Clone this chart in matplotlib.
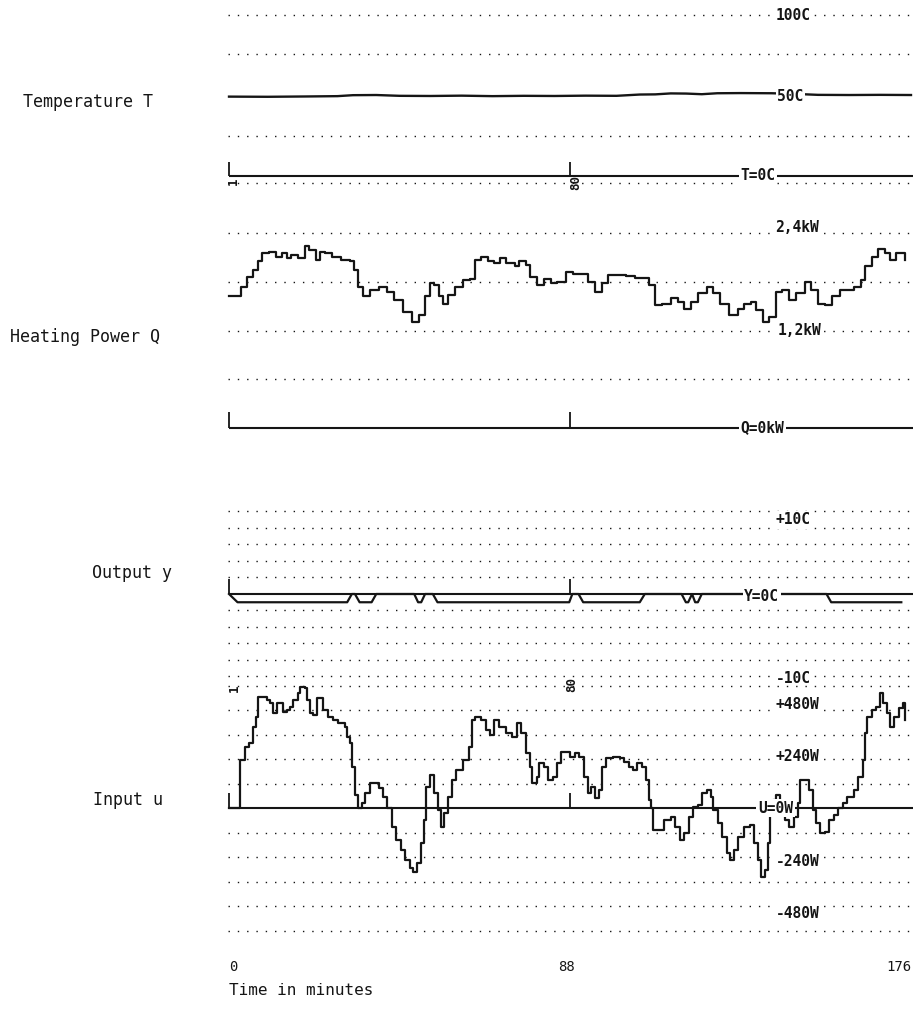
import matplotlib
matplotlib.use("Agg")
import matplotlib.pyplot as plt
import matplotlib.transforms as mtransforms

# ---------------------------------------------------------------- data
# Temperature T (deg C) against time (min)
time_T = [0, 10, 20, 28, 32, 38, 44, 52, 60, 68, 76, 84, 92, 100, 106, 110,
          114, 118, 122, 126, 132, 140, 146, 152, 160, 168, 176]
temp_T = [49.3, 49.2, 49.4, 49.6, 50.2, 50.3, 49.8, 49.7, 49.9, 49.6, 49.8,
          49.7, 49.9, 49.8, 50.6, 50.7, 51.3, 51.2, 50.8, 51.4, 51.5, 51.4,
          51.0, 50.4, 50.3, 50.4, 50.3]

# Heating power Q (kW)
time_Q = [0, 3.2, 4.6, 6.3, 7.5, 8.6, 10.4, 12.1, 13.8, 15.0, 16.1, 17.8,
          19.6, 20.7, 22.4, 23.6, 24.8, 26.5, 28.8, 31.1, 32.2, 33.4, 34.5,
          36.3, 38.6, 40.9, 42.6, 44.9, 47.2, 49.0, 50.7, 51.8, 53.0, 54.1,
          55.3, 56.4, 58.2, 60.5, 62.2, 63.4, 65.1, 66.8, 68.5, 70.0, 71.4,
          73.7, 74.9, 76.6, 77.7, 79.5, 81.2, 83.0, 84.7, 87.0, 88.7, 91.0,
          92.7, 94.5, 96.2, 97.9, 100.2, 102.5, 104.8, 106.5, 108.3, 110.0,
          111.7, 114.0, 115.8, 117.5, 119.2, 121.0, 123.3, 125.0, 126.7,
          129.0, 131.3, 133.0, 134.8, 135.9, 137.7, 139.4, 141.1, 142.8,
          144.6, 146.3, 148.6, 150.3, 152.1, 153.8, 155.5, 157.8, 161.3,
          163.0, 164.1, 165.9, 167.6, 169.3, 170.5, 172.2, 173.9, 174.5]
power_Q = [1.62, 1.74, 1.86, 1.94, 2.05, 2.15, 2.17, 2.11, 2.15, 2.09, 2.13,
           2.09, 2.24, 2.19, 2.07, 2.17, 2.16, 2.11, 2.07, 2.05, 1.94, 1.74,
           1.62, 1.70, 1.74, 1.68, 1.58, 1.43, 1.31, 1.39, 1.62, 1.78, 1.76,
           1.62, 1.53, 1.64, 1.74, 1.82, 1.84, 2.07, 2.11, 2.05, 2.03, 2.09,
           2.03, 1.99, 2.06, 2.01, 1.86, 1.76, 1.84, 1.78, 1.80, 1.92, 1.90,
           1.90, 1.80, 1.68, 1.78, 1.88, 1.88, 1.87, 1.85, 1.85, 1.76, 1.51,
           1.53, 1.60, 1.55, 1.47, 1.55, 1.66, 1.74, 1.66, 1.53, 1.39, 1.47,
           1.53, 1.55, 1.45, 1.31, 1.37, 1.68, 1.70, 1.58, 1.66, 1.80, 1.70,
           1.53, 1.51, 1.62, 1.70, 1.74, 1.82, 1.99, 2.11, 2.20, 2.15, 2.07,
           2.15, 2.15, 2.07]

# Output y (deg C deviation)
time_y = [0, 2.2, 30.5, 31.7, 32.5, 33.7, 36.8, 38.0, 47.8, 48.8, 49.6, 50.6,
          52.6, 53.8, 87.8, 88.6, 90.2, 91.4, 106.0, 107.3, 116.8, 117.9,
          118.5, 119.5, 120.3, 121.0, 122.0, 154.2, 155.4, 173.5]
output_y = [0, -1, -1, 0, 0, -1, -1, 0, 0, -1, -1, 0, 0, -1, -1, 0, 0, -1,
            -1, 0, 0, -1, -1, 0, -1, -1, 0, 0, -1, -1]

# Input u (W)
time_u = [0, 2.8, 4.1, 5.2, 6.3, 7.0, 7.6, 9.7, 10.6, 11.4, 12.3, 14.0, 14.9,
          15.7, 16.6, 17.9, 18.3, 19.6, 20.2, 20.9, 21.8, 22.6, 24.3, 25.6,
          26.9, 28.2, 30.0, 30.4, 31.2, 31.7, 32.5, 33.4, 34.2, 35.1, 36.4,
          38.6, 39.7, 40.9, 42.0, 43.2, 44.3, 45.5, 46.6, 47.4, 48.4, 49.5,
          50.4, 50.9, 51.8, 52.8, 53.9, 54.7, 55.5, 56.4, 57.6, 58.7, 60.5,
          62.0, 62.8, 63.4, 65.1, 66.2, 67.4, 68.5, 69.7, 71.4, 73.1, 74.3,
          75.4, 76.6, 77.7, 78.3, 79.5, 80.1, 81.2, 82.4, 83.5, 84.7, 85.8,
          88.1, 89.3, 90.4, 91.6, 92.7, 93.3, 94.5, 95.6, 96.2, 97.3, 99.1,
          100.8, 102.0, 103.1, 104.2, 105.4, 106.5, 107.7, 108.5, 108.9,
          109.4, 112.3, 114.0, 115.2, 116.3, 117.5, 118.6, 119.8, 121.0,
          122.1, 123.3, 124.4, 125.0, 126.1, 127.3, 128.4, 129.2, 130.2,
          131.3, 133.0, 134.5, 135.4, 136.5, 137.3, 138.2, 139.2, 139.6,
          140.5, 141.1, 142.3, 143.4, 144.6, 145.7, 146.9, 147.4, 149.7,
          150.7, 151.5, 152.6, 153.8, 154.9, 156.1, 157.2, 158.4, 159.6,
          161.3, 162.4, 163.6, 164.1, 164.7, 165.9, 167.0, 168.0, 168.8,
          169.9, 170.7, 171.6, 172.8, 173.9, 174.5]
input_u = [0, 235, 299, 318, 397, 446, 544, 529, 514, 465, 514, 470, 480,
           495, 529, 563, 593, 588, 529, 465, 456, 539, 480, 446, 431, 416,
           397, 348, 318, 201, 64, 0, 24, 73, 122, 98, 54, 0, -93, -157, -206,
           -255, -294, -313, -269, -171, -59, 103, 162, 73, -10, -93, -24, 54,
           137, 186, 235, 299, 431, 446, 431, 382, 358, 431, 397, 367, 348,
           416, 367, 269, 201, 122, 152, 220, 201, 137, 152, 220, 274, 250,
           269, 250, 152, 73, 103, 49, 88, 201, 245, 250, 245, 225, 201, 186,
           220, 201, 137, 39, 0, -108, -59, -44, -93, -157, -122, -44, 5, 15,
           73, 88, 54, -10, -73, -142, -220, -255, -206, -142, -93, -83, -171,
           -255, -338, -304, -171, -10, 39, 64, -10, -59, -93, -44, 24, 137,
           88, -10, -73, -122, -118, -59, -34, 0, 24, 54, 88, 152, 235, 367,
           446, 480, 495, 563, 514, 465, 397, 446, 490, 514, 431]

time_ticks = [0, 88, 176]
sample_marks = ["1", "80"]

# ---------------------------------------------------------------- layout
W, H = 918, 1013
fig = plt.figure(figsize=(W / 100, H / 100), dpi=100)
fig.patch.set_facecolor("white")

INK = "#151515"
MONO = ["DejaVu Sans Mono"]
X_LEFT, X_RIGHT = 226, 918          # axes extent (px)
T0_PX, PX_PER_MIN = 229, 3.875      # time axis scale
GRID_T = (-0.26, 177.0)
LINE_T = (0, 176.6)
DOTS = (0, (1, 5.7))


def panel(base_px, px_per_unit, top_px, bottom_px):
    ax = fig.add_axes([X_LEFT / W, 1 - bottom_px / H,
                       (X_RIGHT - X_LEFT) / W, (bottom_px - top_px) / H])
    ax.set_xlim((X_LEFT - T0_PX) / PX_PER_MIN, (X_RIGHT - T0_PX) / PX_PER_MIN)
    ax.set_ylim((base_px - bottom_px) / px_per_unit,
                (base_px - top_px) / px_per_unit)
    ax.axis("off")
    ax.patch.set_alpha(0)
    return ax


def grid(ax, rows):
    ax.hlines(rows, *GRID_T, colors=INK, linestyles=DOTS, linewidth=1.0,
              zorder=1)


def baseline(ax, tick_h):
    ax.hlines(0, *LINE_T, colors=INK, linewidth=1.5, zorder=2)
    ax.vlines([time_ticks[0], time_ticks[1]], 0, tick_h, colors=INK,
              linewidth=1.3, zorder=2)


def scale_label(ax, t, v, s, **kw):
    ax.text(t, v, s, family=MONO, fontsize=10.5, fontweight="bold",
            color=INK, va="center", ha="left", zorder=5,
            bbox=dict(facecolor="white", edgecolor="none", pad=1.2), **kw)


def mark(ax, t, v, s):
    ax.text(t, v, s, family=MONO, fontsize=9, fontweight="bold",
            rotation=90, ha="center", va="center", color=INK, zorder=4)


def side_label(y_px, s, x_px):
    fig.text(x_px / W, 1 - y_px / H, s, family=MONO, fontsize=12,
             color=INK, ha="left", va="center")


# ---- Temperature T
axT = panel(176, 1.61, 0, 200)
grid(axT, [100, 76, 25, -4.3])
baseline(axT, 8.7)
axT.plot(time_T, temp_T, color=INK, linewidth=1.7, zorder=3)
scale_label(axT, 141.0, 100, "100C")
scale_label(axT, 141.5, 49.6, "50C")
scale_label(axT, 132.0, 0, "T=0C")
mark(axT, 1.0, -3.5, sample_marks[0])
mark(axT, 89.6, -4.0, sample_marks[1])

# ---- Heating power Q
axQ = panel(428, 81.25, 195, 445)
grid(axQ, [2.4, 1.8, 1.2, 0.6])
baseline(axQ, 0.2)
axQ.step(time_Q, power_Q, where="post", color=INK, linewidth=1.6, zorder=3)
scale_label(axQ, 141.0, 2.47, "2,4kW")
scale_label(axQ, 141.5, 1.2, "1,2kW")
scale_label(axQ, 132.0, 0, "Q=0kW")

# ---- Output y
axY = panel(594, 8.25, 495, 685)
grid(axY, [10, 8, 6, 4, 2, -2, -4, -6, -8, -10])
baseline(axY, 1.8)
axY.plot(time_y, output_y, color=INK, linewidth=1.6, zorder=3)
scale_label(axY, 141.0, 9.0, "+10C")
scale_label(axY, 133.0, -0.3, "Y=0C")
scale_label(axY, 141.0, -10.2, "-10C")

# ---- Input u
U_PPU = 24.5 / 120
axU = panel(808, U_PPU, 660, 945)
grid(axU, [600, 480, 360, 240, 120, -120, -240, -360, -480, -600])
baseline(axU, 75)
axU.step(time_u, input_u, where="post", color=INK, linewidth=1.6, zorder=3)
scale_label(axU, 141.0, 505, "+480W")
scale_label(axU, 141.0, 250, "+240W")
scale_label(axU, 136.5, 0, "U=0W")
scale_label(axU, 141.0, -262, "-240W")
scale_label(axU, 141.0, -518, "-480W")
mark(axU, 1.5, 585, sample_marks[0])
mark(axU, 88.5, 605, sample_marks[1])

# ---- panel names
side_label(102, "Temperature T", 23)
side_label(337, "Heating Power Q", 10)
side_label(573, "Output y", 92)
side_label(800, "Input u", 93)

# ---- time axis
tr = mtransforms.blended_transform_factory(axU.transData, fig.transFigure)
axU.text(time_ticks[0], 1 - 967 / H, str(time_ticks[0]), transform=tr,
         family=MONO, fontsize=10, ha="left", va="center", color=INK)
axU.text(time_ticks[1] - 0.8, 1 - 967 / H, str(time_ticks[1]), transform=tr,
         family=MONO, fontsize=10, ha="center", va="center", color=INK)
axU.text(time_ticks[2], 1 - 967 / H, str(time_ticks[2]), transform=tr,
         family=MONO, fontsize=10, ha="right", va="center", color=INK)
axU.text(time_ticks[0], 1 - 990 / H, "Time in minutes", transform=tr,
         family=MONO, fontsize=11.5, ha="left", va="center", color=INK)

fig.savefig("out.png", dpi=100, facecolor="white")
